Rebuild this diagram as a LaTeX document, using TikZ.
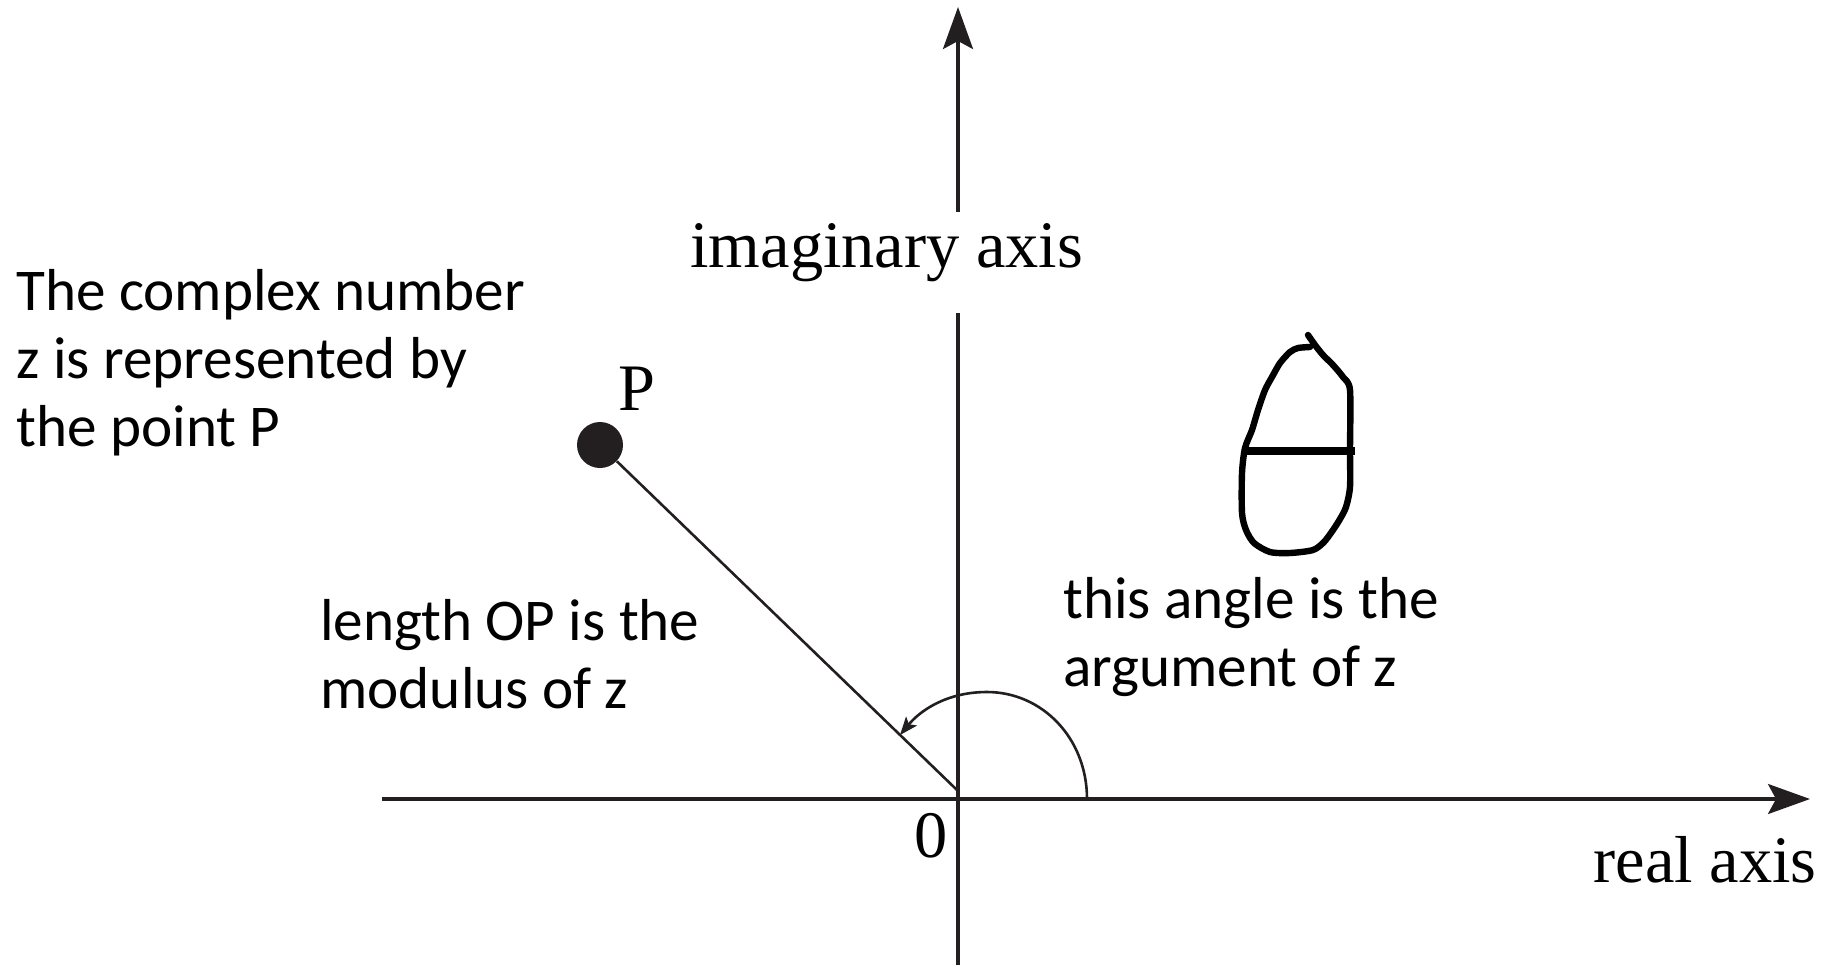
\documentclass[tikz,border=0pt]{standalone}
\usepackage{fontspec}
\setmainfont{Liberation Serif}
\newfontfamily\labelsans{Carlito}
\usetikzlibrary{arrows.meta}
\definecolor{ink}{HTML}{231F20}
\tikzset{
  axisline/.style={draw=ink, line width=1.6pt},
  axisarrow/.style={axisline, -{Stealth[length=21pt,width=15pt,inset=4pt]}},
  thinline/.style={draw=ink, line width=1.3pt},
  arcarrow/.style={thinline, -{Stealth[length=9pt,width=7pt,inset=2pt]}},
  serifl/.style={inner sep=0pt, text=black, font=\fontsize{33.2}{40}\selectfont},
  sansl/.style={inner sep=0pt, text=black, align=left, font=\labelsans\fontsize{29.6}{34}\selectfont},
  pointdot/.style={circle, fill=ink, inner sep=0pt, minimum size=23pt},
  thetastroke/.style={draw=black, line width=3.2pt, line join=round, line cap=round}
}
\begin{document}
\begin{tikzpicture}[x=0.5pt,y=-0.5pt]
\useasboundingbox (0,0) rectangle (1826,965);
% axes
\coordinate (O) at (958,799);
\coordinate (xl) at (382,799);
\coordinate (xr) at (1810,799);
\coordinate (yb) at (958,965);
\coordinate (ylo) at (958,313);
\coordinate (yhi) at (958,212);
\coordinate (yt) at (958,7);
\draw[axisarrow] (xl) -- (xr);
\draw[axisline] (yb) -- (ylo);
\draw[axisarrow] (yhi) -- (yt);
% point P and segment OP
\node[pointdot] (P) at (600,445) {};
\coordinate (Oend) at (957,790);
\draw[thinline] (P) -- (Oend);
% angle arc
\coordinate (A0) at (1087,799);
\coordinate (A1) at (987,692);
\coordinate (A2) at (900,735);
\draw[arcarrow] (A0) .. controls (1087,738) and (1042,692) .. (A1)
  .. controls (945,692) and (919,712) .. (A2);
% labels
\node[serifl, anchor=base west] (imag) at (690,267) {imaginary axis};
\node[serifl, anchor=base east] (real) at (1817,882) {real axis};
\node[serifl, anchor=base] (Plabel) at (637,410) {P};
\node[serifl, anchor=base] (zero) at (931,857) {0};
\node[sansl, anchor=base west] (desc) at (16,446) {The complex number\\z is represented by\\the point P};
\node[sansl, anchor=base west] (modulus) at (320,708) {length OP is the\\modulus of z};
\node[sansl, anchor=base west] (argument) at (1063,686) {this angle is the\\argument of z};
% hand-drawn theta
\draw[thetastroke] plot[smooth, tension=0.45] coordinates {
  (1308,335) (1315,345) (1323,355) (1333,365) (1343,377) (1350,390)
  (1350,450) (1350,487) (1346,507) (1340,519) (1333,530) (1324,542)
  (1313,550) (1290,553) (1270,552) (1254,543) (1246,530) (1242,513)
  (1242,473) (1245,448) (1252,430) (1258,410) (1265,390) (1272,377)
  (1280,363) (1290,352) (1298,348) (1310,347)};
\draw[draw=black, line width=4pt] (1243,451) -- (1355,451);
\end{tikzpicture}
\end{document}
